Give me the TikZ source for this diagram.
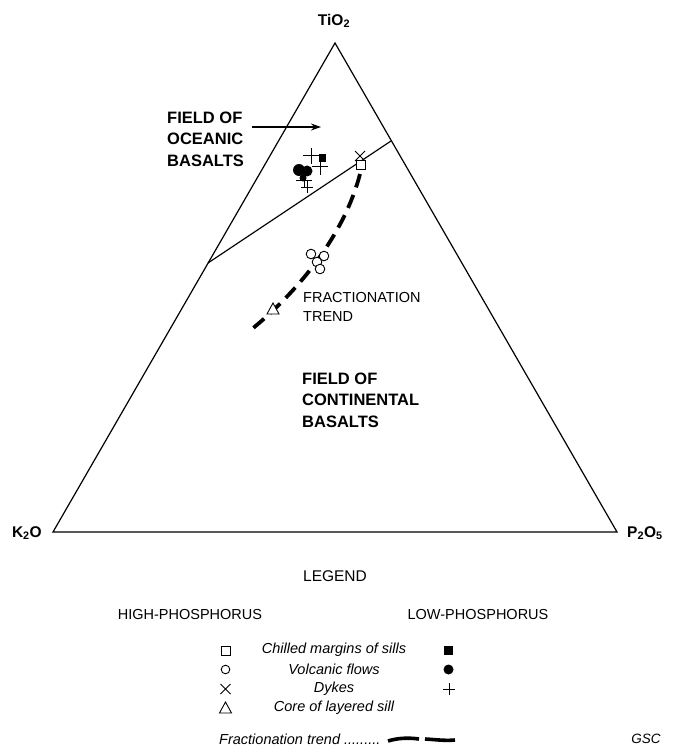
\documentclass[tikz,border=0pt]{standalone}
\usepackage{fontspec}
\setmainfont{Liberation Sans}
\usetikzlibrary{arrows.meta}
\begin{document}
\begin{tikzpicture}[x=1pt,y=-1pt,
  axislbl/.style={inner sep=0pt, font=\fontsize{15.5}{15.5}\selectfont\bfseries},
  fieldlbl/.style={inner sep=0pt, anchor=west, align=left, font=\fontsize{16.5}{21.5}\selectfont\bfseries},
  trendlbl/.style={inner sep=0pt, anchor=west, align=left, font=\fontsize{14.5}{19}\selectfont},
  headlbl/.style={inner sep=0pt, font=\fontsize{14.5}{14.5}\selectfont},
  itlbl/.style={inner sep=0pt, font=\fontsize{14.5}{14.5}\selectfont\itshape},
  edge/.style={line width=1.2pt},
  trend/.style={line width=3.8pt, dash pattern=on 14pt off 8pt},
  sym/.style={line width=0.9pt},
  plusmark/.pic={\draw[line width=1pt] (-8,0)--(8,0) (0,-8)--(0,8);},
  plussm/.pic={\draw[line width=0.9pt] (-6,0)--(6,0) (0,-6)--(0,6);},
  xmark/.pic={\draw[line width=0.9pt] (-5,-5)--(5,5) (-5,5)--(5,-5);},
  tri/.pic={\draw[line width=0.9pt, fill=white] (0,-6)--(6,5)--(-6,5)--cycle;}
]
\useasboundingbox (0,0) rectangle (673,746);

% triangle
\coordinate (K) at (53,532);
\coordinate (P) at (617,532);
\coordinate (T) at (335,43);
\draw[edge, line join=miter] (K) -- (T) -- (P) -- cycle;

\node[axislbl] (tio2) at (334,21) {TiO\textsubscript{2}};
\node[axislbl, anchor=east] (k2o) at (42,533) {K\textsubscript{2}O};
\node[axislbl, anchor=west] (p2o5) at (627,533) {P\textsubscript{2}O\textsubscript{5}};

% dividing line
\coordinate (d1) at (391,141);
\coordinate (d2) at (208,263);
\draw[edge] (d1) -- (d2);

% oceanic field label and arrow
\node[fieldlbl] (ocean) at (167,139) {FIELD OF\\OCEANIC\\BASALTS};
\coordinate (a1) at (252,127);
\coordinate (a2) at (321,127);
\draw[edge, -{Stealth[length=10pt,width=7pt]}] (a1) -- (a2);

% continental label
\node[fieldlbl] (cont) at (302,400) {FIELD OF\\CONTINENTAL\\BASALTS};

% fractionation trend
\coordinate (t1) at (360,174);
\coordinate (t2) at (252,329);
\draw[trend] (t1) .. controls (345,232) and (302,288) .. (t2);
\node[trendlbl] (frac) at (303,306.5) {FRACTIONATION\\TREND};

% low-phosphorus cluster
\fill (299,170) circle (6);
\fill (307,171) circle (5.5);
\fill (303,178) circle (3.5);
\fill (318.5,154.5) rectangle (326,162);
\pic at (311,156) {plusmark};
\pic at (320,167) {plusmark};
\pic at (304,180) {plusmark};
\pic at (307,187) {plussm};

% high-phosphorus symbols on plot
\pic at (360,156) {xmark};
\draw[sym, fill=white] (356.5,160) rectangle (365.5,169);
\foreach \p in {(311,254),(324,256),(317,262),(320,269)}
  \draw[sym, fill=white] \p circle (4.8);
\pic at (273,309) {tri};

% legend
\node[headlbl, font=\fontsize{15.5}{15.5}\selectfont] (legend) at (335,576) {LEGEND};
\node[headlbl] (high) at (190,615) {HIGH-PHOSPHORUS};
\node[headlbl] (low) at (478,615) {LOW-PHOSPHORUS};

\draw[sym] (221,646) rectangle (230,655);
\node[itlbl] (chill) at (334,650) {Chilled margins of sills};
\fill (444,646) rectangle (453,655);

\draw[sym] (225.5,669.5) circle (4.3);
\node[itlbl] (volc) at (334,669.5) {Volcanic flows};
\fill (448.5,669.5) circle (5);

\pic at (225.5,689) {xmark};
\node[itlbl] (dyke) at (334,689) {Dykes};
\pic at (449,689) {plussm};

\pic at (225.5,708) {tri};
\node[itlbl] (core) at (334,708) {Core of layered sill};

\node[itlbl, anchor=west] (fraclg) at (219,739) {Fractionation trend .........};
\coordinate (f1) at (388,741);
\coordinate (f2) at (419,739);
\coordinate (f3) at (425,739);
\coordinate (f4) at (455,740);
\draw[line width=3.6pt] (f1) .. controls (398,738) and (408,737.5) .. (f2);
\draw[line width=3.6pt] (f3) .. controls (435,739.5) and (445,741) .. (f4);

\node[itlbl, font=\fontsize{13.5}{13.5}\selectfont\itshape] (gsc) at (646,739) {GSC};
\end{tikzpicture}
\end{document}
